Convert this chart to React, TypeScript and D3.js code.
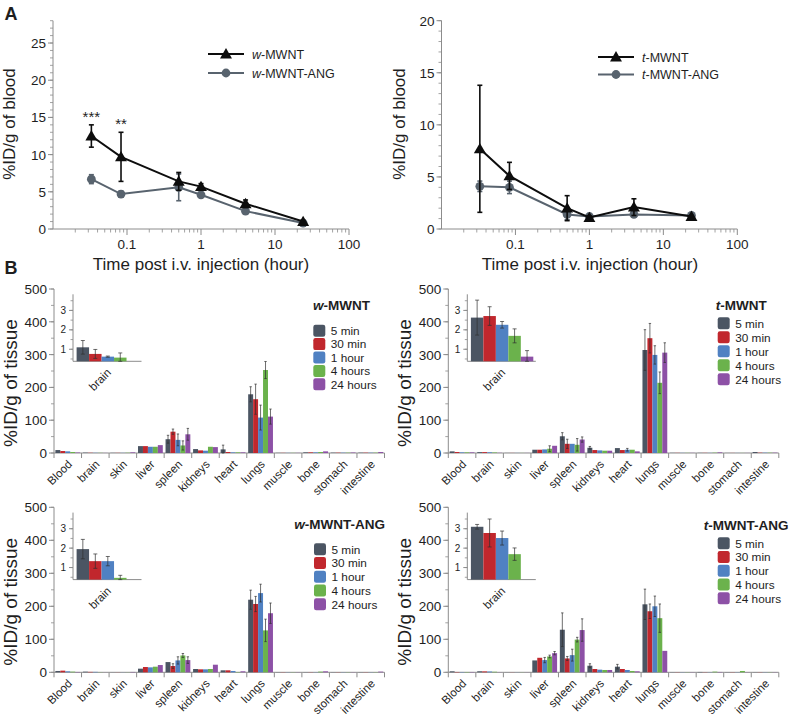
import React from 'react';
import * as d3 from 'd3';

const FONT = '"Liberation Sans", Arial, Helvetica, sans-serif';
const AXIS = '#8c8c8c';
const INK = '#1e1e1e';

// ---- panel A: blood circulation ----
const timesHours = [0.033, 0.083, 0.5, 1, 4, 24];
const wMwntBlood = [12.5, 9.7, 6.4, 5.7, 3.4, 1.0];
const wMwntBloodErr = [1.5, 3.3, 1.2, 0.4, 0.5, 0.15];
const wMwntAngBlood = [6.7, 4.7, 5.6, 4.6, 2.4, 0.8];
const wMwntAngBloodErr = [0.6, 0.4, 1.8, 0.3, 0.3, 0.1];
const tMwntBlood = [7.7, 5.1, 2.0, 1.1, 2.1, 1.2];
const tMwntBloodErr = [6.1, 1.3, 1.2, 0.15, 0.8, 0.1];
const tMwntAngBlood = [4.1, 4.0, 1.4, 1.2, 1.4, 1.3];
const tMwntAngBloodErr = [0.5, 0.6, 0.5, 0.1, 0.2, 0.1];
const wStars = ['***', '**', '', '', '', ''];
const logMajor = [0.1, 1, 10, 100];

// ---- panel B: biodistribution ----
const organs = ['Blood', 'brain', 'skin', 'liver', 'spleen', 'kidneys', 'heart', 'lungs', 'muscle', 'bone', 'stomach', 'intestine'];
const timeLabels = ['5 min', '30 min', '1 hour', '4 hours', '24 hours'];
const barColors = ['#4b5563', '#c1272d', '#5081c2', '#6bb24c', '#8d51a6'];

const wMwntTissue = [
  [9, 6, 5, 3, 1.5], [1.1, 0.76, 0.62, 0.57, 0.3], [0.5, 0.5, 0.5, 0.8, 2],
  [21, 21, 19, 19, 24], [42, 65, 40, 23, 57], [12, 8, 7, 19, 18],
  [11, 3, 2, 2, 2], [179, 164, 108, 253, 111], [0.5, 0.5, 0.5, 0.5, 0.5],
  [2, 2, 2, 3, 5], [1, 1, 1, 1, 1.5], [1, 1, 1, 1, 3],
];
const wMwntTissueErr = [
  [2, 1, 1, 1, 0.5], [0.35, 0.23, 0.03, 0.24, 0.05], [0.2, 0.2, 0.2, 0.3, 0.5],
  [3, 3, 2, 2, 2], [12, 8, 18, 14, 18], [2, 1, 1, 2, 2],
  [13, 1, 0.5, 0.5, 0.5], [23, 46, 38, 26, 23], [0.2, 0.2, 0.2, 0.2, 0.2],
  [0.5, 0.5, 0.5, 0.5, 1], [0.3, 0.3, 0.3, 0.3, 0.3], [0.3, 0.3, 0.3, 0.3, 0.5],
];
const tMwntTissue = [
  [5, 3, 2, 2, 2], [2.63, 2.71, 2.26, 1.69, 0.62], [0.3, 0.3, 0.3, 0.3, 0.3],
  [10, 10, 11, 13, 22], [51, 28, 28, 25, 41], [16, 9, 8, 7, 7],
  [15, 9, 10, 10, 5], [314, 350, 299, 214, 306], [0.5, 0.5, 0.5, 0.5, 0.5],
  [0.5, 0.5, 0.5, 1, 2], [0.3, 0.3, 0.3, 0.3, 0.3], [3, 1, 1, 1, 1],
];
const tMwntTissueErr = [
  [1, 1, 0.5, 0.5, 0.5], [0.9, 0.48, 0.17, 0.36, 0.31], [0.1, 0.1, 0.1, 0.1, 0.1],
  [1, 1, 1, 9, 2], [11, 14, 2, 19, 8], [4, 1, 1, 1, 1],
  [3, 1, 4, 1, 1], [62, 45, 28, 33, 30], [0.2, 0.2, 0.2, 0.2, 0.2],
  [0.3, 0.3, 0.3, 0.3, 0.5], [0.1, 0.1, 0.1, 0.1, 0.1], [1, 0.3, 0.3, 0.3, 0.3],
];
const wMwntAngTissue = [
  [4, 5, 3, 2, 1], [1.95, 1.33, 1.33, 0.47, 0.2], [0.3, 0.3, 0.3, 0.3, 1],
  [11, 16, 15, 17, 22], [31, 19, 36, 51, 37], [10, 9, 9, 10, 23],
  [6, 6, 4, 1, 3], [220, 207, 240, 127, 179], [0.5, 0.5, 0.5, 0.5, 0.5],
  [0.5, 0.5, 0.5, 2, 3], [0.5, 0.5, 0.5, 0.5, 0.5], [0.5, 0.5, 0.5, 0.5, 2],
];
const wMwntAngTissueErr = [
  [1, 1, 0.5, 0.5, 0.3], [0.5, 0.37, 0.24, 0.13, 0], [0.1, 0.1, 0.1, 0.1, 0.3],
  [1.5, 2, 1.5, 1.5, 3], [2, 7, 11, 6, 10], [1, 1, 1, 2, 2],
  [1, 1, 1, 0.5, 0.5], [29, 23, 27, 34, 31], [0.2, 0.2, 0.2, 0.2, 0.2],
  [0.2, 0.2, 0.2, 0.5, 0.5], [0.2, 0.2, 0.2, 0.2, 0.2], [0.2, 0.2, 0.2, 0.2, 0.5],
];
const tMwntAngTissue = [
  [3, 1, 1, 1, 1], [3.1, 2.78, 2.52, 1.69, 0.38], [0.3, 0.3, 0.3, 0.3, 0.3],
  [36, 44, 37, 48, 58], [129, 42, 52, 99, 128], [20, 10, 8, 7, 7],
  [17, 10, 7, 4, 3], [206, 185, 200, 164, 65], [0.5, 0.5, 0.5, 0.5, 0.5],
  [1, 0.5, 0.5, 2, 1], [0.5, 0.5, 0.5, 4, 0.5], [0.5, 0.5, 0.5, 0.5, 0.5],
];
const tMwntAngTissueErr = [
  [0.5, 0.3, 0.3, 0.3, 0.3], [0.12, 0.72, 0.36, 0.32, 0], [0.1, 0.1, 0.1, 0.1, 0.1],
  [3, 3, 8, 4, 5], [51, 6, 18, 7, 34], [6, 1, 1, 1, 1],
  [7, 1, 1, 0.5, 0.5], [46, 22, 31, 43, 3], [0.2, 0.2, 0.2, 0.2, 0.2],
  [0.3, 0.2, 0.2, 0.5, 0.3], [0.2, 0.2, 0.2, 1, 0.2], [0.2, 0.2, 0.2, 0.2, 0.2],
];
const tissueTicks = [0, 100, 200, 300, 400, 500];
const insetTicks = [1, 2, 3];

type Series = { prefix: string; suffix: string; values: number[]; errs: number[]; marker: 'tri' | 'dot'; color: string };

function LinePanel(props: {
  x0: number; x1: number; yMax: number; series: Series[]; legend: { x: number; y: number; gap: number };
  stars?: string[]; yTitleX: number; xTitleX: number;
}) {
  const { x0, x1, yMax, series, legend, stars, yTitleX, xTitleX } = props;
  const x = d3.scaleLog().domain([0.01, 100]).range([x0, x1]);
  const y = d3.scaleLinear().domain([0, yMax]).range([229, 20.7]);
  const yBase = y(0);
  const minorX: number[] = [];
  [0.01, 0.1, 1, 10].forEach((dec) => d3.range(2, 10).forEach((m) => minorX.push(dec * m)));
  const line = d3.line<number>().x((_, i) => x(timesHours[i])).y((d) => y(d));
  const tri = d3.symbol(d3.symbolTriangle, 62)();

  const marker = (s: Series, cx: number, cy: number, key: string | number) =>
    s.marker === 'tri'
      ? <path key={key} d={tri || ''} transform={`translate(${cx},${cy + 1})`} fill={s.color} />
      : <circle key={key} cx={cx} cy={cy} r={4.4} fill={s.color} />;

  return (
    <g fontFamily={FONT}>
      {/* axes */}
      <line x1={x0} x2={x1} y1={yBase} y2={yBase} stroke={AXIS} />
      <line x1={x0} x2={x0} y1={yBase} y2={y(yMax)} stroke={AXIS} />
      {minorX.map((v) => <line key={'mx' + v} x1={x(v)} x2={x(v)} y1={yBase} y2={yBase + 3.5} stroke={AXIS} strokeWidth={0.8} />)}
      {logMajor.map((v) => (
        <g key={'Mx' + v}>
          <line x1={x(v)} x2={x(v)} y1={yBase} y2={yBase + 6} stroke={AXIS} />
          <text x={x(v)} y={248.5} textAnchor="middle" fontSize={13.5} fill={INK}>{v}</text>
        </g>
      ))}
      {d3.range(0, yMax + 1, 1).map((v) => <line key={'my' + v} x1={x0 - 3} x2={x0} y1={y(v)} y2={y(v)} stroke={AXIS} strokeWidth={0.8} />)}
      {d3.range(0, yMax + 1, 5).map((v) => (
        <g key={'My' + v}>
          <line x1={x0 - 5} x2={x0} y1={y(v)} y2={y(v)} stroke={AXIS} />
          <text x={x0 - 7} y={y(v) + 5} textAnchor="end" fontSize={13.5} fill={INK}>{v}</text>
        </g>
      ))}
      <text x={xTitleX} y={270} textAnchor="middle" fontSize={17} fill={INK}>Time post i.v. injection (hour)</text>
      <text transform={`translate(${yTitleX},124) rotate(-90)`} textAnchor="middle" fontSize={17} fill={INK}>%ID/g of blood</text>

      {/* series */}
      {series.map((s, si) => (
        <g key={si}>
          <path d={line(s.values) || ''} fill="none" stroke={s.color} strokeWidth={2} />
          {s.values.map((v, i) => {
            const cx = x(timesHours[i]);
            const lo = y(Math.max(0, v - s.errs[i]));
            const hi = y(v + s.errs[i]);
            return (
              <g key={i}>
                <line x1={cx} x2={cx} y1={lo} y2={hi} stroke={s.color} strokeWidth={1.6} />
                <line x1={cx - 2.5} x2={cx + 2.5} y1={lo} y2={lo} stroke={s.color} strokeWidth={1.6} />
                <line x1={cx - 2.5} x2={cx + 2.5} y1={hi} y2={hi} stroke={s.color} strokeWidth={1.6} />
                {marker(s, cx, y(v), 'm' + i)}
              </g>
            );
          })}
        </g>
      ))}
      {stars && stars.map((st, i) => st ? (
        <text key={'st' + i} x={x(timesHours[i])} y={y(series[series.length - 1].values[i] + series[series.length - 1].errs[i]) - 3}
          textAnchor="middle" fontSize={15} fill={INK}>{st}</text>
      ) : null)}

      {/* legend */}
      {[...series].reverse().map((s, i) => {
        const ly = legend.y + i * legend.gap;
        return (
          <g key={'lg' + i}>
            <line x1={legend.x} x2={legend.x + 36} y1={ly} y2={ly} stroke={s.color} strokeWidth={2} />
            {marker(s, legend.x + 18, ly, 'lm' + i)}
            <text x={legend.x + 44} y={ly + 4.5} fontSize={12.5} fill={INK}>
              <tspan fontStyle="italic">{s.prefix}</tspan>{s.suffix}
            </text>
          </g>
        );
      })}
    </g>
  );
}

function BarPanel(props: {
  x0: number; yTop: number; yBottom: number; values: number[][]; errs: number[][];
  prefix: string; suffix: string; titleRight: number; titleDy: number;
  legendX: number; legendDy: number; legendGap: number; yTitleX: number;
}) {
  const { x0, yTop, yBottom, values, errs, prefix, suffix, titleRight, titleDy, legendX, legendDy, legendGap, yTitleX } = props;
  const x1 = x0 + 330.5;
  const x = d3.scaleBand<string>().domain(organs).range([x0, x1]).paddingInner(0.1).paddingOuter(0.05);
  const xs = d3.scaleBand<number>().domain(d3.range(timeLabels.length)).range([0, x.bandwidth()]);
  const y = d3.scaleLinear().domain([0, 500]).range([yBottom, yTop]);
  const edges = d3.range(organs.length + 1).map((i) => x0 + i * (x1 - x0) / organs.length);

  // inset (brain)
  const ix0 = x0 + 19, ix1 = ix0 + 68.5;
  const iyTop = yTop + 5.3, iyBottom = iyTop + 67;
  const iy = d3.scaleLinear().domain([0.38, 3.83]).range([iyBottom, iyTop]);
  const ixs = d3.scaleBand<number>().domain(d3.range(timeLabels.length)).range([ix0 + 3.6, ix1 - 2.5]);
  const brainIdx = organs.indexOf('brain');

  const errBar = (cx: number, lo: number, hi: number, k: string, cap: number) => (
    <g key={k} stroke="#2f2f2f" strokeWidth={0.7}>
      <line x1={cx} x2={cx} y1={lo} y2={hi} />
      <line x1={cx - cap} x2={cx + cap} y1={hi} y2={hi} />
      <line x1={cx - cap} x2={cx + cap} y1={lo} y2={lo} />
    </g>
  );

  return (
    <g fontFamily={FONT}>
      {/* main axes */}
      <line x1={x0} x2={x1} y1={yBottom} y2={yBottom} stroke={AXIS} />
      <line x1={x0} x2={x0} y1={yBottom} y2={yTop} stroke={AXIS} />
      {edges.map((ex, i) => <line key={'e' + i} x1={ex} x2={ex} y1={yBottom} y2={yBottom + 5} stroke={AXIS} />)}
      {d3.range(0, 501, 50).map((v) => <line key={'mn' + v} x1={x0 - 3} x2={x0} y1={y(v)} y2={y(v)} stroke={AXIS} strokeWidth={0.8} />)}
      {tissueTicks.map((v) => (
        <g key={'t' + v}>
          <line x1={x0 - 5} x2={x0} y1={y(v)} y2={y(v)} stroke={AXIS} />
          <text x={x0 - 7} y={y(v) + 5} textAnchor="end" fontSize={13.5} fill={INK}>{v}</text>
        </g>
      ))}
      {organs.map((o) => (
        <text key={'l' + o} transform={`translate(${(x(o) || 0) + x.bandwidth() / 2 + 5},${yBottom + 12}) rotate(-45)`}
          textAnchor="end" fontSize={11.5} fill={INK}>{o}</text>
      ))}
      <text transform={`translate(${yTitleX},${(yTop + yBottom) / 2 + 12}) rotate(-90)`} textAnchor="middle" fontSize={19} fill={INK}>%ID/g of tissue</text>

      {/* bars */}
      {organs.map((o, oi) => (
        <g key={'b' + o}>
          {values[oi].map((v, ti) => {
            const bx = (x(o) || 0) + (xs(ti) || 0);
            return <rect key={ti} x={bx} y={y(v)} width={xs.bandwidth()} height={yBottom - y(v)} fill={barColors[ti]} />;
          })}
          {values[oi].map((v, ti) => {
            const cx = (x(o) || 0) + (xs(ti) || 0) + xs.bandwidth() / 2;
            const e = errs[oi][ti];
            if (yBottom - y(e) < 1.2) return null;
            return errBar(cx, y(Math.max(0, v - e)), y(v + e), 'eb' + ti, 1.2);
          })}
        </g>
      ))}

      {/* inset */}
      <line x1={ix0} x2={ix1} y1={iyBottom} y2={iyBottom} stroke={AXIS} />
      <line x1={ix0} x2={ix0} y1={iyBottom} y2={iyTop} stroke={AXIS} />
      {d3.range(0.5, 3.6, 0.5).map((v) => <line key={'im' + v} x1={ix0 - 2.5} x2={ix0} y1={iy(v)} y2={iy(v)} stroke={AXIS} strokeWidth={0.8} />)}
      {insetTicks.map((v) => (
        <g key={'it' + v}>
          <line x1={ix0 - 4} x2={ix0} y1={iy(v)} y2={iy(v)} stroke={AXIS} />
          <text x={ix0 - 7} y={iy(v) + 3.5} textAnchor="end" fontSize={10} fill={INK}>{v}</text>
        </g>
      ))}
      {values[brainIdx].map((v, ti) => {
        if (v <= 0.38) return null;
        const bx = ixs(ti) || 0;
        return <rect key={'ib' + ti} x={bx} y={iy(v)} width={ixs.bandwidth()} height={iyBottom - iy(v)} fill={barColors[ti]} />;
      })}
      {values[brainIdx].map((v, ti) => {
        const e = errs[brainIdx][ti];
        if (v <= 0.38 || e <= 0) return null;
        const cx = (ixs(ti) || 0) + ixs.bandwidth() / 2;
        return errBar(cx, iy(Math.max(0.38, v - e)), iy(v + e), 'ie' + ti, 2);
      })}
      <text transform={`translate(${(ix0 + ix1) / 2 + 4.5},${iyBottom + 12}) rotate(-45)`} textAnchor="end" fontSize={11.5} fill={INK}>brain</text>

      {/* legend */}
      <text x={titleRight} y={yTop + titleDy + 5} textAnchor="end" fontSize={13.5} fontWeight="bold" fill={INK}>
        <tspan fontStyle="italic">{prefix}</tspan>{suffix}
      </text>
      {timeLabels.map((t, ti) => {
        const ly = yTop + legendDy + ti * legendGap;
        return (
          <g key={'lg' + t}>
            <rect x={legendX} y={ly - 6} width={12} height={12} rx={2.2} fill={barColors[ti]} />
            <text x={legendX + 17.5} y={ly + 4.3} fontSize={11.8} fill={INK}>{t}</text>
          </g>
        );
      })}
    </g>
  );
}

export default function App() {
  const black = '#0d0d0d';
  const gray = '#58636e';
  return (
    <svg width={790} height={715} viewBox="0 0 790 715" style={{ position: 'absolute', left: 0, top: 0, background: 'white' }}>
      <rect width={790} height={715} fill="white" />
      <text x={4.5} y={19.5} fontFamily={FONT} fontWeight="bold" fontSize={18} fill={INK}>A</text>
      <text x={4.5} y={273.5} fontFamily={FONT} fontWeight="bold" fontSize={18} fill={INK}>B</text>

      <LinePanel x0={53} x1={349} yMax={28} yTitleX={15} xTitleX={201}
        legend={{ x: 208, y: 54, gap: 19 }} stars={wStars}
        series={[
          { prefix: 'w', suffix: '-MWNT-ANG', values: wMwntAngBlood, errs: wMwntAngBloodErr, marker: 'dot', color: gray },
          { prefix: 'w', suffix: '-MWNT', values: wMwntBlood, errs: wMwntBloodErr, marker: 'tri', color: black },
        ]} />
      <LinePanel x0={441.5} x1={737.3} yMax={20} yTitleX={405} xTitleX={590}
        legend={{ x: 598, y: 57, gap: 17.5 }}
        series={[
          { prefix: 't', suffix: '-MWNT-ANG', values: tMwntAngBlood, errs: tMwntAngBloodErr, marker: 'dot', color: gray },
          { prefix: 't', suffix: '-MWNT', values: tMwntBlood, errs: tMwntBloodErr, marker: 'tri', color: black },
        ]} />

      <BarPanel x0={54} yTop={289} yBottom={453} values={wMwntTissue} errs={wMwntTissueErr}
        prefix="w" suffix="-MWNT" titleRight={370} titleDy={16} legendX={313.3} legendDy={41.7} legendGap={13.4} yTitleX={17} />
      <BarPanel x0={448.3} yTop={289} yBottom={453} values={tMwntTissue} errs={tMwntTissueErr}
        prefix="t" suffix="-MWNT" titleRight={766.7} titleDy={16} legendX={717.7} legendDy={34.3} legendGap={14} yTitleX={411} />
      <BarPanel x0={54} yTop={507.3} yBottom={672.3} values={wMwntAngTissue} errs={wMwntAngTissueErr}
        prefix="w" suffix="-MWNT-ANG" titleRight={385} titleDy={17} legendX={314} legendDy={42} legendGap={13.75} yTitleX={17} />
      <BarPanel x0={448.3} yTop={507.3} yBottom={672.3} values={tMwntAngTissue} errs={tMwntAngTissueErr}
        prefix="t" suffix="-MWNT-ANG" titleRight={788.5} titleDy={17.5} legendX={717.7} legendDy={36} legendGap={13.75} yTitleX={411} />
    </svg>
  );
}
